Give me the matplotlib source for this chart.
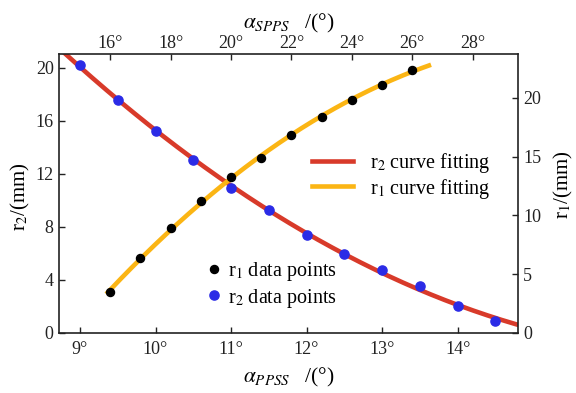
import numpy as np
import matplotlib
matplotlib.use("Agg")
import matplotlib.pyplot as plt
from matplotlib.ticker import FixedLocator, FuncFormatter

plt.rcParams['font.family'] = ['Liberation Serif', 'DejaVu Serif']
plt.rcParams['mathtext.fontset'] = 'stix'

# r2 data (bottom axis alpha_PPSS, left axis r2)
alpha_ppss = [9.0, 9.5, 10.0, 10.5, 11.0, 11.5, 12.0, 12.5, 13.0, 13.5, 14.0, 14.5]
r2_vals = [20.2, 17.55, 15.2, 13.05, 10.95, 9.25, 7.4, 5.9, 4.75, 3.5, 2.05, 0.9]

# r1 data (top axis alpha_SPPS, right axis r1)
alpha_spps = [16, 17, 18, 19, 20, 21, 22, 23, 24, 25, 26]
r1_vals = [3.45, 6.35, 8.9, 11.2, 13.25, 14.9, 16.85, 18.4, 19.8, 21.1, 22.4]

bottom_ticks = [9, 10, 11, 12, 13, 14]
top_ticks = [16, 18, 20, 22, 24, 26, 28]
left_ticks = [0, 4, 8, 12, 16, 20]
right_ticks = [0, 5, 10, 15, 20]

RED = '#d83a2a'
ORANGE = '#fbb514'
BLUE = '#2b2be6'

W, H = 576, 393
L, R, T, B = 59.3, 517.7, 54.3, 332.7
fig = plt.figure(figsize=(W/100, H/100), dpi=100)
pos = [L/W, 1-B/H, (R-L)/W, (B-T)/H]
ax = fig.add_axes(pos)
ax2 = fig.add_axes(pos, frameon=False)

# fitted curves from data
c2 = np.polyfit(alpha_ppss, r2_vals, 2)
x2 = np.linspace(8.6, 14.8, 200)
l_r2, = ax.plot(x2, np.polyval(c2, x2), color=RED, lw=3.3, zorder=2, label=r'r$_2$ curve fitting')

c1 = np.polyfit(alpha_spps, r1_vals, 2)
x1 = np.linspace(15.92, 26.55, 200)
l_r1, = ax2.plot(x1, np.polyval(c1, x1), color=ORANGE, lw=3.3, zorder=2, label=r'r$_1$ curve fitting')

p_r2, = ax.plot(alpha_ppss, r2_vals, 'o', color=BLUE, ms=6.6, zorder=3, label=r'r$_2$ data points')
p_r1, = ax2.plot(alpha_spps, r1_vals, 'o', color='black', ms=5.8, zorder=3, label=r'r$_1$ data points')

ax.set_xlim(8.726, 14.795)
ax.set_ylim(0, 21)
ax2.set_xlim(14.315, 29.49)
ax2.set_ylim(0, 23.72)

deg = FuncFormatter(lambda v, p: f"{v:g}\u00b0")
ax.xaxis.set_major_locator(FixedLocator(bottom_ticks))
ax.xaxis.set_major_formatter(deg)
ax.yaxis.set_major_locator(FixedLocator(left_ticks))
ax2.xaxis.set_major_locator(FixedLocator(top_ticks))
ax2.xaxis.set_major_formatter(deg)
ax2.yaxis.set_major_locator(FixedLocator(right_ticks))

ax2.xaxis.tick_top()
ax2.yaxis.tick_right()
ax2.xaxis.set_label_position('top')
ax2.yaxis.set_label_position('right')

for a in (ax, ax2):
    a.tick_params(direction='in', length=4, width=1, labelsize=13, colors='#222222')
ax.tick_params(axis='x', pad=6)
ax.tick_params(axis='y', pad=4)
ax2.tick_params(axis='x', pad=2)
ax2.tick_params(axis='y', pad=4)
for s in ax.spines.values():
    s.set_linewidth(1.2)
    s.set_color('#222222')

ax.set_xlabel(r'$\alpha_{PPSS}\quad$/(°)', fontsize=15.5)
ax.set_ylabel(r'r$_2$/(mm)', fontsize=15)
ax2.set_xlabel(r'$\alpha_{SPPS}\quad$/(°)', fontsize=15.5)
ax2.set_ylabel(r'r$_1$/(mm)', fontsize=15)

aw, ah = R-L, B-T
ax.xaxis.set_label_coords(0.5, (B-382)/ah)
ax.xaxis.label.set_va('baseline')
ax2.xaxis.set_label_coords(0.5, (B-28)/ah)
ax2.xaxis.label.set_va('baseline')
ax.yaxis.set_label_coords((20-L)/aw, 0.49)
ax.yaxis.label.set_va('center')
ax2.yaxis.set_label_coords((563.5-L)/aw, 0.53)
ax2.yaxis.label.set_va('center')

leg1 = ax2.legend(handles=[l_r2, l_r1], loc='center left', bbox_to_anchor=((311.7-L)/aw, (B-176)/ah),
                  frameon=False, fontsize=14.5, handlelength=2.05, handletextpad=0.85,
                  borderpad=0, borderaxespad=0, labelspacing=0.05)
ax2.add_artist(leg1)
leg2 = ax2.legend(handles=[p_r1, p_r2], loc='center left', bbox_to_anchor=((208.2-L)/aw, (B-285)/ah),
                  frameon=False, fontsize=14.5, handlelength=0.6, handletextpad=0.4,
                  borderpad=0, borderaxespad=0, labelspacing=0.15)

fig.savefig('out.png', dpi=100)
